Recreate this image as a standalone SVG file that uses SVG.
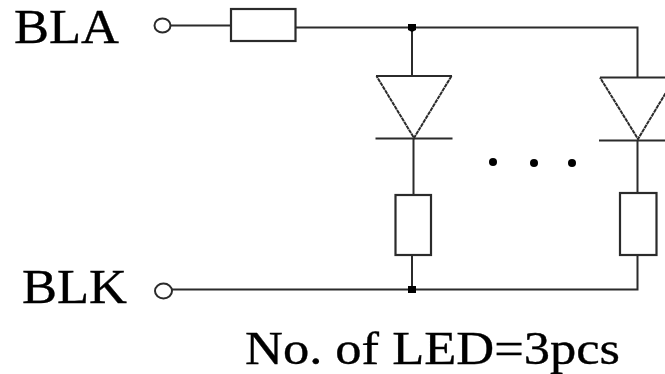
<svg xmlns="http://www.w3.org/2000/svg" width="665" height="374" viewBox="0 0 665 374">
<style>
.w{fill:none;stroke:#2b2b2b;stroke-width:2}
.r{fill:#fff;stroke:#2b2b2b;stroke-width:2.200}
.t{fill:none;stroke:#2b2b2b;stroke-width:2;stroke-dasharray:4 .6}
.j{fill:#000}
.l{font-family:"Liberation Serif","Times New Roman",serif;font-size:48px;fill:#000;stroke:#000;stroke-width:.35}
.n{font-size:46.500px}
</style>
<rect width="665" height="374" fill="#fff"/>
<g id="connectors">
<path class="w" d="M171 25.500H231"/>
<path class="w" d="M296 27.500H637.500V77.500"/>
<path class="w" d="M412 27.500V76"/>
<path class="w" d="M413.500 138V195"/>
<path class="w" d="M412 255V289.500"/>
<path class="w" d="M172 289.500H637.500V255"/>
<path class="w" d="M637.500 140V193"/>
</g>
<g id="label-bla"><text class="l" x="14" y="43" textLength="105" lengthAdjust="spacingAndGlyphs">BLA</text></g>
<g id="label-blk"><text class="l" x="22" y="303" textLength="105" lengthAdjust="spacingAndGlyphs">BLK</text></g>
<g id="label-note"><text class="l n" x="245" y="363.500" textLength="375" lengthAdjust="spacingAndGlyphs">No. of LED=3pcs</text></g>
<g id="terminal-bla"><ellipse class="w" cx="162.500" cy="25.500" rx="8" ry="7"/></g>
<g id="terminal-blk"><ellipse class="w" cx="163.500" cy="291" rx="8.500" ry="7.500"/></g>
<g id="resistor-series"><rect class="r" x="231" y="9" width="64.500" height="32"/></g>
<g id="junction-top"><path class="j" d="M408 24H416V30L412 32L408 30Z"/></g>
<g id="junction-bottom"><rect class="j" x="408" y="286" width="8" height="7"/></g>
<g id="led-1">
<path class="t" d="M451.500 76L414 138L376.500 76"/>
<path class="w" d="M376 76H452M375.500 138.500H452.500"/>
</g>
<g id="resistor-1"><rect class="r" x="395.500" y="195" width="35.500" height="60"/></g>
<g id="led-2">
<path class="t" d="M675 77.500L638 139L600 77.500"/>
<path class="w" d="M600 77.500H665M599 140.500H665"/>
</g>
<g id="resistor-2"><rect class="r" x="620" y="193" width="36.500" height="62"/></g>
<g id="ellipsis">
<circle class="j" cx="493" cy="162" r="4"/>
<circle class="j" cx="534" cy="163" r="4"/>
<circle class="j" cx="572" cy="163" r="4"/>
</g>
</svg>
